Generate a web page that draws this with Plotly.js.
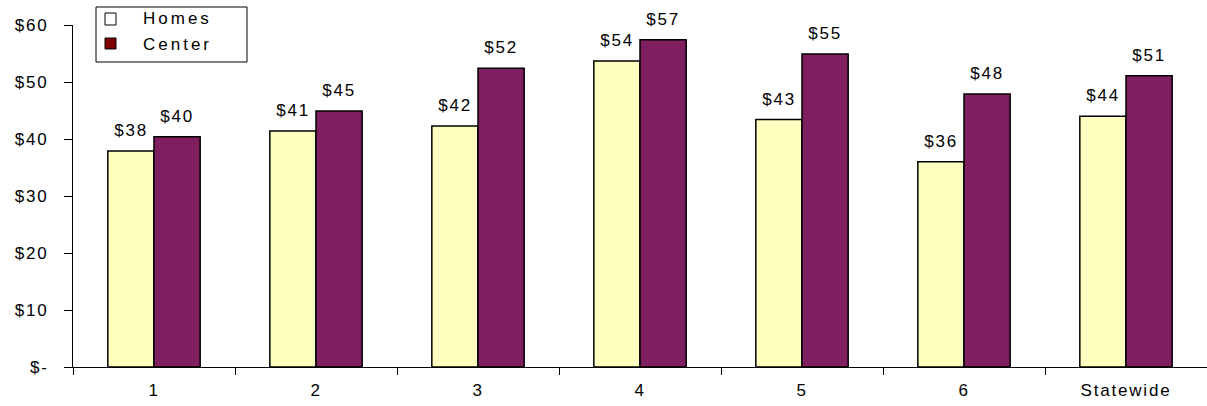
<!DOCTYPE html>
<html><head><meta charset="utf-8">
<script src="https://cdn.plot.ly/plotly-3.0.1.min.js"></script>
<style>html,body{margin:0;padding:0;background:#fff}#chart{width:1207px;height:406px}
#chart svg text{letter-spacing:1.8px}</style>
</head><body><div id="chart"></div>
<script>
const categories = ["1","2","3","4","5","6","Statewide"];
const homes = [37.9, 41.4, 42.3, 53.7, 43.4, 36.0, 44.0];
const center = [40.4, 44.9, 52.4, 57.4, 54.9, 47.9, 51.1];
const seriesNames = ["Homes","Center"];
const yTickVals = [0,10,20,30,40,50,60];
const yTickText = ["$-","$10","$20","$30","$40","$50","$60"];

const font = {family:"Liberation Sans, Arial, sans-serif", size:17, color:"#000"};
const W = 1207, H = 406, M = {l:73, r:0, t:25, b:39};
const bargap = 0.43;
const plotW = W - M.l - M.r;
const half = plotW / categories.length * (1 - bargap) / 4;

function lbl(v){return "$" + Math.round(v);}
const traces = [
 {type:"bar", name:seriesNames[0], x:categories, y:homes, hoverinfo:"skip",
  marker:{color:"#FFFFC0", line:{color:"#000", width:1.5}}},
 {type:"bar", name:seriesNames[1], x:categories, y:center, hoverinfo:"skip",
  marker:{color:"#7F1F5F", line:{color:"#000", width:1.5}}}
];
const annotations = [];
categories.forEach((c,i)=>{
  annotations.push({xref:"x", yref:"y", x:i, y:homes[i], xshift:-half, yshift:9, yanchor:"bottom", xanchor:"center",
    text:lbl(homes[i]), showarrow:false, font:font});
  annotations.push({xref:"x", yref:"y", x:i, y:center[i], xshift:half, yshift:9, yanchor:"bottom", xanchor:"center",
    text:lbl(center[i]), showarrow:false, font:font});
});
const legFont = Object.assign({}, font);
annotations.push({xref:"paper", yref:"paper", x:(141-73)/plotW, y:(367-19)/342, xanchor:"left", yanchor:"middle", text:"<span style='letter-spacing:3px'>"+seriesNames[0]+"</span>", showarrow:false, font:legFont});
annotations.push({xref:"paper", yref:"paper", x:(141-73)/plotW, y:(367-44)/342, xanchor:"left", yanchor:"middle", text:"<span style='letter-spacing:3px'>"+seriesNames[1]+"</span>", showarrow:false, font:legFont});

const layout = {
 width:W, height:H, margin:M,
 paper_bgcolor:"#fff", plot_bgcolor:"#fff", font:font,
 barmode:"group", bargap:bargap, bargroupgap:0, showlegend:false,
 xaxis:{type:"category", range:[-0.5,6.5], showline:true, linecolor:"#000", linewidth:1,
   ticks:"outside", tickson:"boundaries", ticklen:7, tickcolor:"#000", showgrid:false, zeroline:false,
   tickfont:font, ticklabelstandoff:8},
 yaxis:{range:[0,60], tickvals:yTickVals, ticktext:yTickText, showline:true, linecolor:"#000", linewidth:1,
   ticks:"outside", ticklen:8, tickcolor:"#000", showgrid:false, zeroline:false, tickfont:font, ticklabelstandoff:12},
 shapes:[
  {type:"rect", xref:"paper", yref:"paper", x0:(96-73)/plotW, x1:(247-73)/plotW, y0:(367-62)/342, y1:(367-7)/342,
   line:{color:"#000", width:1}, fillcolor:"#fff"},
  {type:"rect", xref:"paper", yref:"paper", x0:(105-73)/plotW, x1:(116-73)/plotW, y0:(367-25)/342, y1:(367-13)/342,
   line:{color:"#000", width:1}, fillcolor:"#fff"},
  {type:"rect", xref:"paper", yref:"paper", x0:(105-73)/plotW, x1:(116-73)/plotW, y0:(367-49)/342, y1:(367-38)/342,
   line:{color:"#000", width:1}, fillcolor:"#800000"}
 ],
 annotations:annotations
};
Plotly.newPlot("chart", traces, layout, {staticPlot:true});
</script></body></html>
